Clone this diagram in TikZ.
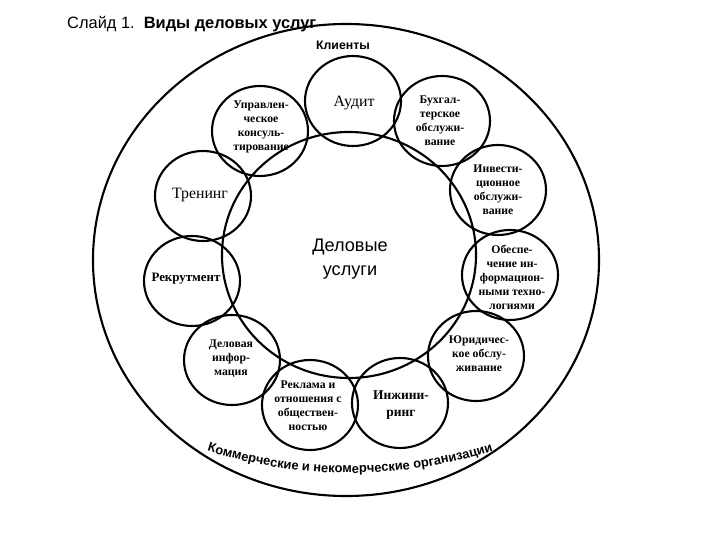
\documentclass[tikz,border=0pt]{standalone}
\usepackage{fontspec}
\setmainfont{Liberation Serif}
\setsansfont{Liberation Sans}
\usetikzlibrary{shapes.geometric,decorations.text}
\tikzset{
  usl/.style={draw, ellipse, line width=1.8pt, minimum width=2.88cm, minimum height=2.7cm, inner sep=0pt},
  utxt/.style={align=center, inner sep=0pt, font=\bfseries\fontsize{10}{12}\selectfont},
  ubig/.style={inner sep=0pt, font=\fontsize{13.5}{16}\selectfont},
}
\begin{document}
\begin{tikzpicture}[x=0.03cm,y=-0.03cm]
\useasboundingbox (0,0) rectangle (720,540);
% outer ring and core
\node[draw, ellipse, line width=1.8pt, minimum width=15.18cm, minimum height=14.16cm, inner sep=0pt] (clients) at (346,260) {};
\node[draw, ellipse, line width=1.8pt, minimum width=7.62cm, minimum height=7.38cm, inner sep=0pt] (core) at (349,255) {};
% services
\node[usl] (upr) at (260,131) {};
\node[usl] (audit) at (353,101) {};
\node[usl] (buh) at (442,121) {};
\node[usl] (invest) at (498,190) {};
\node[usl] (obesp) at (510,275) {};
\node[usl] (yur) at (476,356) {};
\node[usl] (inzh) at (400,403) {};
\node[usl] (reklama) at (310,405) {};
\node[usl] (delinf) at (232,360) {};
\node[usl] (rekrut) at (192,281) {};
\node[usl] (trening) at (203,196) {};
% labels
\node[utxt] (upr-t) at (261,127) {Управлен-\\ческое\\консуль-\\тирование};
\node[ubig] (audit-t) at (354,103) {Аудит};
\node[utxt] (buh-t) at (440,121) {Бухгал-\\терское\\обслужи-\\вание};
\node[utxt] (invest-t) at (498,190) {Инвести-\\ционное\\обслужи-\\вание};
\node[utxt] (obesp-t) at (512,277) {Обеспе-\\чение ин-\\формацион-\\ными техно-\\логиями};
\node[utxt] (yur-t) at (479,354) {Юридичес-\\кое обслу-\\живание};
\node[utxt, font=\bfseries\fontsize{11.5}{14}\selectfont] (inzh-t) at (401,405) {Инжини-\\ринг};
\node[utxt] (reklama-t) at (308,406) {Реклама и\\отношения с\\обществен-\\ностью};
\node[utxt] (delinf-t) at (231,359) {Деловая\\инфор-\\мация};
\node[utxt, font=\bfseries\fontsize{11}{13}\selectfont] (rekrut-t) at (186,279) {Рекрутмент};
\node[ubig] (trening-t) at (200,195) {Тренинг};
\node[align=center, inner sep=0pt, font=\sffamily\fontsize{15.5}{21}\selectfont] (core-t) at (350,259) {Деловые\\услуги};
\node[inner sep=0pt, font=\sffamily\bfseries\fontsize{10.5}{12}\selectfont] (clients-t) at (343,45) {Клиенты};
\node[anchor=base west, inner sep=0pt, font=\sffamily\fontsize{14}{16}\selectfont] (title) at (67,29) {Слайд 1.\ \ \textbf{Виды деловых услуг}};
% curved caption
\path[font=\sffamily\bfseries\fontsize{11}{13}\selectfont, decorate,
  decoration={text along path, text align=center,
  text={|\sffamily\bfseries\fontsize{11}{13}\selectfont|Коммерческие и некомерческие организации}}]
  (350,3) ++(109:470) arc[start angle=109, end angle=71, radius=470];
\end{tikzpicture}
\end{document}
